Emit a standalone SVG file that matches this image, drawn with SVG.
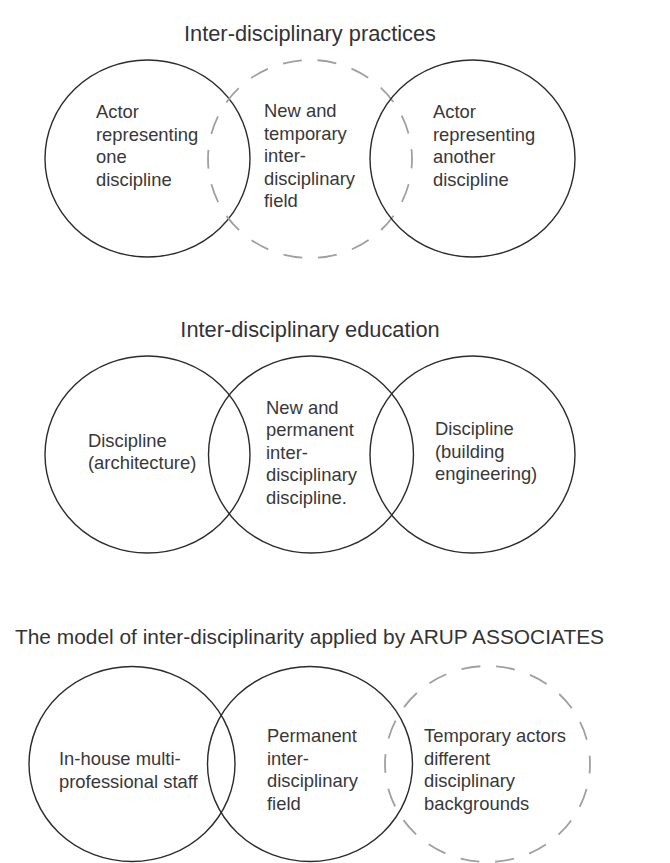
<svg xmlns="http://www.w3.org/2000/svg" width="670" height="863" viewBox="0 0 670 863">
<style>
  .bg { fill: #ffffff; }
  .solid { fill: none; stroke: #2b2b2b; stroke-width: 1.4; }
  .dashed { fill: none; stroke: #a0a0a0; stroke-width: 1.8; stroke-dasharray: 19 16; stroke-dashoffset: 9.5; }
  .title { font-family: "Liberation Sans", Arial, sans-serif; font-size: 21.8px; fill: #333333; text-anchor: middle; }
  .title3 { font-size: 20.9px; }
  .label { font-family: "Liberation Sans", Arial, sans-serif; font-size: 18.4px; fill: #383838; }
</style>
<rect class="bg" x="0" y="0" width="670" height="863"/>

<g id="section1">
  <text id="title1" class="title" x="310" y="41">Inter-disciplinary practices</text>
  <g id="connectors1"></g>
  <g id="node-actor-one">
    <ellipse class="solid" cx="147.5" cy="158.5" rx="102.5" ry="98.5"/>
    <text class="label" x="96" y="118">Actor</text>
    <text class="label" x="96" y="140.5">representing</text>
    <text class="label" x="96" y="163">one</text>
    <text class="label" x="96" y="185.5">discipline</text>
  </g>
  <g id="node-temporary-field">
    <ellipse class="dashed" cx="310" cy="159" rx="102" ry="99"/>
    <text class="label" x="264" y="117">New and</text>
    <text class="label" x="264" y="139.5">temporary</text>
    <text class="label" x="264" y="162">inter-</text>
    <text class="label" x="264" y="184.5">disciplinary</text>
    <text class="label" x="264" y="207">field</text>
  </g>
  <g id="node-actor-another">
    <ellipse class="solid" cx="472.5" cy="158.5" rx="102.5" ry="98.5"/>
    <text class="label" x="433" y="118">Actor</text>
    <text class="label" x="433" y="140.5">representing</text>
    <text class="label" x="433" y="163">another</text>
    <text class="label" x="433" y="185.5">discipline</text>
  </g>
</g>

<g id="section2">
  <text id="title2" class="title" x="310" y="337">Inter-disciplinary education</text>
  <g id="connectors2"></g>
  <g id="node-architecture">
    <ellipse class="solid" cx="147.5" cy="454.5" rx="102.5" ry="98.5"/>
    <text class="label" x="88" y="446.5">Discipline</text>
    <text class="label" x="88" y="469">(architecture)</text>
  </g>
  <g id="node-permanent-discipline">
    <ellipse class="solid" cx="311" cy="454.5" rx="102.5" ry="98.5"/>
    <text class="label" x="266" y="413.5">New and</text>
    <text class="label" x="266" y="436">permanent</text>
    <text class="label" x="266" y="458.5">inter-</text>
    <text class="label" x="266" y="481">disciplinary</text>
    <text class="label" x="266" y="503.5">discipline.</text>
  </g>
  <g id="node-building-engineering">
    <ellipse class="solid" cx="472.5" cy="454.5" rx="102.5" ry="98.5"/>
    <text class="label" x="435" y="435">Discipline</text>
    <text class="label" x="435" y="457.5">(building</text>
    <text class="label" x="435" y="480">engineering)</text>
  </g>
</g>

<g id="section3">
  <text id="title3" class="title title3" x="309.5" y="644">The model of inter-disciplinarity applied by ARUP ASSOCIATES</text>
  <g id="connectors3"></g>
  <g id="node-inhouse">
    <ellipse class="solid" cx="132" cy="764" rx="103" ry="97.5"/>
    <text class="label" x="59" y="765">In-house multi-</text>
    <text class="label" x="59" y="787.5">professional staff</text>
  </g>
  <g id="node-permanent-field">
    <ellipse class="solid" cx="310" cy="764" rx="102.5" ry="97.5"/>
    <text class="label" x="267" y="742">Permanent</text>
    <text class="label" x="267" y="764.5">inter-</text>
    <text class="label" x="267" y="787">disciplinary</text>
    <text class="label" x="267" y="809.5">field</text>
  </g>
  <g id="node-temporary-actors">
    <ellipse class="dashed" cx="487.5" cy="764" rx="102.5" ry="98"/>
    <text class="label" x="424" y="742">Temporary actors</text>
    <text class="label" x="424" y="764.5">different</text>
    <text class="label" x="424" y="787">disciplinary</text>
    <text class="label" x="424" y="809.5">backgrounds</text>
  </g>
</g>
</svg>
